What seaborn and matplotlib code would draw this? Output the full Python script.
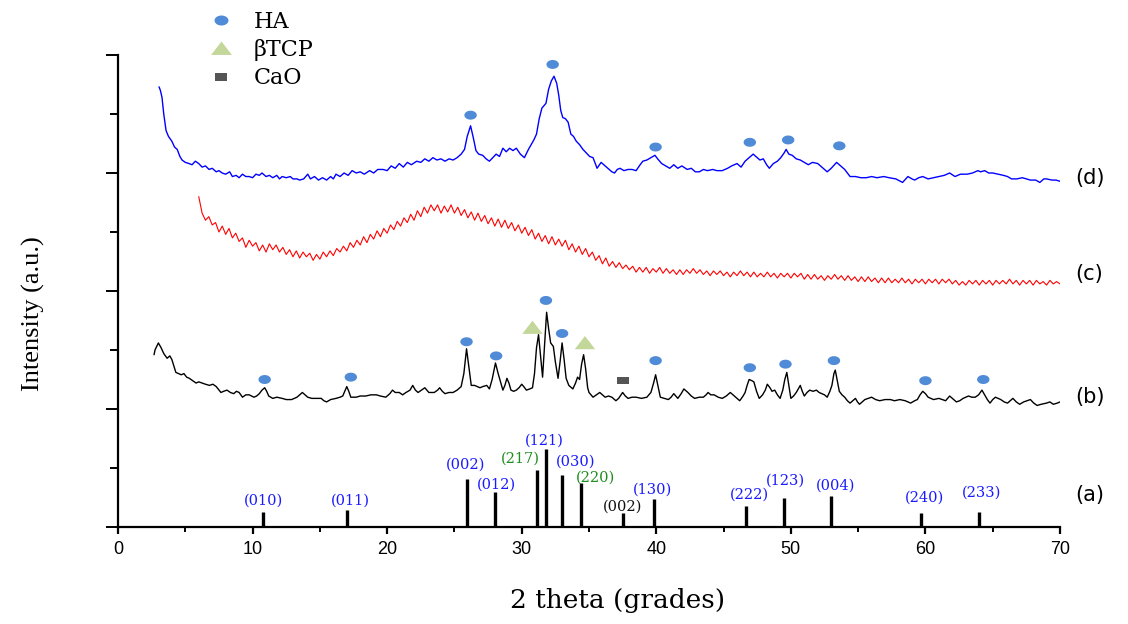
import numpy as np
import matplotlib
matplotlib.use("Agg")
import matplotlib.pyplot as plt
from matplotlib.path import Path
from matplotlib.lines import Line2D
from matplotlib.ticker import MultipleLocator, NullFormatter
import seaborn as sns

# ---------------- data ----------------
# (d) blue pattern
d_theta = [3.05, 3.15, 3.27, 3.40, 3.57, 3.75, 4.00, 4.20, 4.40, 4.60, 4.76, 5.00, 5.28, 5.50, 5.75, 6.00,
           6.25, 6.50, 6.77, 7.00, 7.30, 7.50, 7.74, 8.00, 8.30, 8.50, 8.78, 9.00, 9.25, 9.50, 9.75, 10.00,
           10.25, 10.50, 10.70, 11.00, 11.25, 11.50, 11.80, 12.00, 12.20, 12.50, 12.80, 13.00, 13.30, 13.50,
           13.80, 14.10, 14.30, 14.60, 14.90, 15.20, 15.50, 15.80, 16.00, 16.20, 16.50, 16.80, 17.10, 17.40,
           17.70, 18.00, 18.30, 18.70, 19.00, 19.30, 19.70, 20.00, 20.30, 20.60, 20.90, 21.20, 21.50, 21.80,
           22.20, 22.50, 22.80, 23.10, 23.40, 23.70, 24.00, 24.30, 24.60, 24.90, 25.20, 25.50, 25.75, 25.95,
           26.20, 26.40, 26.60, 26.80, 27.10, 27.35, 27.60, 27.85, 28.10, 28.35, 28.60, 28.85, 29.10, 29.35,
           29.60, 29.90, 30.20, 30.50, 30.70, 30.90, 31.10, 31.30, 31.50, 31.80, 32.00, 32.20, 32.40, 32.60,
           32.75, 32.90, 33.05, 33.25, 33.45, 33.65, 33.85, 34.05, 34.30, 34.55, 34.80, 35.05, 35.30, 35.60,
           35.90, 36.10, 36.40, 36.70, 36.90, 37.10, 37.30, 37.60, 37.90, 38.20, 38.50, 38.80, 39.00, 39.30,
           39.60, 39.90, 40.10, 40.40, 40.70, 41.00, 41.30, 41.60, 41.90, 42.30, 42.60, 42.90, 43.20, 43.50,
           43.80, 44.20, 44.50, 44.90, 45.30, 45.60, 46.00, 46.30, 46.60, 46.90, 47.20, 47.50, 47.70, 47.95,
           48.20, 48.40, 48.70, 49.00, 49.25, 49.50, 49.65, 49.85, 50.10, 50.40, 50.70, 51.00, 51.30, 51.60,
           52.00, 52.30, 52.70, 53.00, 53.40, 53.70, 54.00, 54.20, 54.40, 54.80, 55.20, 55.60, 56.00, 56.40,
           56.90, 57.30, 57.80, 58.30, 58.70, 59.00, 59.20, 59.50, 59.80, 60.20, 60.60, 61.00, 61.40, 61.80,
           62.20, 62.60, 63.10, 63.50, 63.90, 64.10, 64.40, 64.70, 65.00, 65.40, 65.80, 66.10, 66.40, 66.80,
           67.20, 67.50, 67.80, 68.20, 68.50, 68.80, 69.00, 69.40, 69.70, 70.00]
d_int = [3.73, 3.70, 3.64, 3.50, 3.36, 3.31, 3.27, 3.22, 3.20, 3.14, 3.11, 3.09, 3.08, 3.07, 3.10, 3.08,
         3.05, 3.06, 3.03, 3.04, 3.01, 3.02, 3.00, 2.99, 3.01, 2.97, 2.98, 2.96, 2.99, 2.97, 2.97, 2.96,
         2.99, 2.98, 3.00, 2.97, 2.98, 2.96, 2.98, 2.95, 2.97, 2.96, 2.97, 2.95, 2.95, 2.94,
         2.95, 2.99, 2.95, 2.97, 2.94, 2.96, 2.94, 2.97, 2.95, 2.99, 2.97, 3.00, 2.98, 3.02,
         3.00, 3.01, 2.99, 3.02, 3.00, 3.03, 3.03, 3.02, 3.06, 3.04, 3.08, 3.05, 3.09, 3.07,
         3.10, 3.09, 3.12, 3.10, 3.13, 3.11, 3.12, 3.10, 3.12, 3.11, 3.13, 3.16, 3.20, 3.31,
         3.40, 3.30, 3.19, 3.16, 3.15, 3.12, 3.10, 3.13, 3.16, 3.14, 3.21, 3.18, 3.21, 3.19,
         3.21, 3.16, 3.13, 3.20, 3.24, 3.28, 3.33, 3.46, 3.55, 3.59, 3.71, 3.78, 3.82, 3.76,
         3.66, 3.53, 3.47, 3.46, 3.43, 3.33, 3.31, 3.27, 3.24, 3.20, 3.17, 3.14, 3.13, 3.04,
         3.09, 3.07, 3.04, 3.01, 3.00, 3.03, 3.04, 3.02, 3.03, 3.03, 3.02, 3.07, 3.10, 3.11,
         3.13, 3.15, 3.12, 3.08, 3.06, 3.04, 3.07, 3.04, 3.06, 3.03, 3.04, 3.01, 3.01, 3.03,
         3.02, 3.03, 3.02, 3.02, 3.04, 3.06, 3.08, 3.05, 3.10, 3.13, 3.16, 3.13, 3.11, 3.12,
         3.07, 3.04, 3.08, 3.10, 3.13, 3.17, 3.20, 3.16, 3.15, 3.12, 3.11, 3.09, 3.07, 3.09,
         3.08, 3.05, 3.01, 3.04, 3.09, 3.06, 3.03, 3.00, 2.97, 2.97, 2.96, 2.96, 2.97, 2.96,
         2.97, 2.96, 2.95, 2.92, 2.97, 2.95, 2.94, 2.96, 2.97, 2.95, 2.96, 2.97, 2.98, 3.00,
         2.97, 2.99, 2.99, 3.00, 3.02, 3.01, 3.02, 3.00, 3.00, 2.99, 2.98, 2.97, 2.95, 2.95,
         2.96, 2.95, 2.94, 2.94, 2.92, 2.95, 2.95, 2.94, 2.94, 2.93]

# (c) red pattern, recorded every 0.25 deg from 6.0 to 70.0
c_start, c_step = 6.0, 0.25
c_int = [2.80, 2.66, 2.60, 2.63, 2.56, 2.58, 2.50, 2.55, 2.48, 2.53, 2.45, 2.49, 2.42, 2.45, 2.37, 2.43,
         2.38, 2.41, 2.34, 2.39, 2.33, 2.40, 2.35, 2.39, 2.33, 2.37, 2.31, 2.35, 2.29, 2.34, 2.28, 2.33,
         2.29, 2.32, 2.26, 2.31, 2.27, 2.33, 2.29, 2.34, 2.30, 2.36, 2.33, 2.38, 2.34, 2.41, 2.37, 2.43,
         2.39, 2.46, 2.41, 2.48, 2.44, 2.51, 2.46, 2.53, 2.49, 2.56, 2.52, 2.59, 2.55, 2.62, 2.58, 2.65,
         2.60, 2.68, 2.63, 2.71, 2.66, 2.73, 2.68, 2.73, 2.66, 2.72, 2.67, 2.73, 2.66, 2.71, 2.64, 2.69,
         2.62, 2.67, 2.60, 2.66, 2.59, 2.64, 2.57, 2.62, 2.55, 2.61, 2.54, 2.60, 2.53, 2.58, 2.51, 2.56,
         2.49, 2.54, 2.47, 2.52, 2.44, 2.49, 2.42, 2.47, 2.40, 2.46, 2.39, 2.44, 2.38, 2.43, 2.35, 2.40,
         2.33, 2.38, 2.31, 2.36, 2.29, 2.33, 2.26, 2.30, 2.23, 2.28, 2.21, 2.25, 2.20, 2.24, 2.19, 2.22,
         2.18, 2.21, 2.16, 2.20, 2.16, 2.20, 2.15, 2.19, 2.16, 2.20, 2.15, 2.19, 2.15, 2.18, 2.14, 2.18,
         2.14, 2.18, 2.15, 2.19, 2.15, 2.18, 2.14, 2.17, 2.13, 2.17, 2.14, 2.17, 2.13, 2.16, 2.12, 2.16,
         2.13, 2.17, 2.13, 2.16, 2.12, 2.16, 2.12, 2.15, 2.12, 2.16, 2.12, 2.15, 2.11, 2.15, 2.12, 2.15,
         2.11, 2.15, 2.12, 2.15, 2.10, 2.14, 2.10, 2.14, 2.10, 2.13, 2.09, 2.13, 2.10, 2.14, 2.10, 2.13,
         2.09, 2.13, 2.09, 2.12, 2.08, 2.12, 2.08, 2.12, 2.08, 2.11, 2.07, 2.11, 2.07, 2.11, 2.07, 2.10,
         2.07, 2.11, 2.07, 2.10, 2.06, 2.10, 2.07, 2.10, 2.06, 2.10, 2.07, 2.10, 2.06, 2.10, 2.07, 2.10,
         2.06, 2.09, 2.05, 2.08, 2.05, 2.09, 2.06, 2.09, 2.05, 2.09, 2.06, 2.09, 2.05, 2.09, 2.06, 2.09,
         2.06, 2.10, 2.06, 2.09, 2.05, 2.09, 2.06, 2.09, 2.05, 2.09, 2.06, 2.08, 2.05, 2.09, 2.06, 2.08,
         2.06]

# (b) black pattern
b_theta = [2.68, 2.75, 3.00, 3.20, 3.40, 3.65, 3.85, 4.00, 4.30, 4.50, 4.70, 4.90, 5.10, 5.30, 5.55, 5.80,
           6.00, 6.25, 6.50, 6.80, 7.05, 7.30, 7.65, 7.85, 8.10, 8.35, 8.60, 8.80, 9.00, 9.25, 9.50, 9.75,
           10.10, 10.30, 10.50, 10.70, 10.90, 11.05, 11.20, 11.50, 11.80, 12.20, 12.50, 12.90, 13.30, 13.50,
           13.70, 13.90, 14.10, 14.40, 14.70, 15.10, 15.30, 15.50, 15.80, 16.20, 16.50, 16.70, 16.85, 17.00,
           17.15, 17.30, 17.70, 18.00, 18.40, 18.80, 19.20, 19.50, 19.90, 20.20, 20.40, 20.60, 20.90, 21.15,
           21.40, 21.70, 21.90, 22.10, 22.30, 22.55, 22.80, 23.10, 23.50, 23.75, 23.90, 24.10, 24.30, 24.60,
           24.90, 25.20, 25.50, 25.70, 25.90, 26.05, 26.25, 26.50, 26.70, 26.90, 27.10, 27.40, 27.60, 27.80,
           28.05, 28.25, 28.40, 28.60, 28.75, 28.90, 29.05, 29.20, 29.40, 29.60, 29.80, 30.00, 30.15, 30.35,
           30.60, 30.80, 30.95, 31.10, 31.25, 31.40, 31.55, 31.70, 31.85, 32.00, 32.15, 32.35, 32.50, 32.70,
           32.85, 33.00, 33.15, 33.30, 33.50, 33.80, 34.00, 34.15, 34.30, 34.45, 34.60, 34.75, 34.90, 35.00,
           35.30, 35.55, 35.80, 36.00, 36.20, 36.45, 36.70, 37.00, 37.20, 37.50, 37.70, 37.90, 38.20, 38.50,
           38.90, 39.30, 39.60, 39.80, 39.95, 40.10, 40.30, 40.60, 40.90, 41.10, 41.30, 41.45, 41.60, 41.85,
           42.05, 42.35, 42.60, 42.85, 43.20, 43.50, 43.70, 43.85, 44.05, 44.30, 44.60, 44.90, 45.20, 45.50,
           45.80, 46.20, 46.45, 46.60, 46.75, 46.90, 47.10, 47.25, 47.45, 47.65, 47.90, 48.10, 48.25, 48.45,
           48.60, 48.80, 49.00, 49.20, 49.40, 49.55, 49.70, 49.85, 50.00, 50.20, 50.40, 50.55, 50.70, 50.85,
           51.00, 51.20, 51.40, 51.65, 51.90, 52.10, 52.30, 52.50, 52.70, 52.90, 53.05, 53.20, 53.30, 53.45,
           53.60, 53.80, 54.00, 54.20, 54.40, 54.60, 54.80, 54.95, 55.10, 55.30, 55.50, 55.75, 56.00, 56.30,
           56.60, 57.00, 57.40, 57.70, 58.10, 58.50, 58.90, 59.20, 59.40, 59.60, 59.80, 60.00, 60.20, 60.40,
           60.60, 61.00, 61.25, 61.50, 61.80, 62.00, 62.30, 62.55, 62.80, 63.00, 63.20, 63.45, 63.70, 63.95,
           64.20, 64.40, 64.60, 64.80, 65.00, 65.20, 65.40, 65.60, 65.85, 66.10, 66.30, 66.50, 66.75, 67.00,
           67.30, 67.55, 67.80, 68.05, 68.30, 68.60, 69.00, 69.25, 69.50, 69.80, 70.00]
b_int = [1.46, 1.50, 1.56, 1.52, 1.47, 1.43, 1.45, 1.42, 1.31, 1.30, 1.29, 1.30, 1.27, 1.26, 1.24, 1.22,
         1.23, 1.22, 1.21, 1.20, 1.21, 1.19, 1.14, 1.15, 1.16, 1.14, 1.13, 1.15, 1.14, 1.10, 1.12, 1.12,
         1.10, 1.11, 1.13, 1.16, 1.18, 1.15, 1.11, 1.09, 1.10, 1.09, 1.08, 1.08, 1.10, 1.12,
         1.14, 1.12, 1.10, 1.09, 1.09, 1.09, 1.07, 1.06, 1.08, 1.09, 1.10, 1.11, 1.15, 1.19,
         1.15, 1.10, 1.10, 1.11, 1.11, 1.12, 1.12, 1.11, 1.10, 1.13, 1.16, 1.14, 1.14, 1.12,
         1.14, 1.16, 1.20, 1.16, 1.14, 1.16, 1.18, 1.14, 1.14, 1.16, 1.18, 1.15, 1.13, 1.14,
         1.14, 1.16, 1.19, 1.30, 1.51, 1.38, 1.20, 1.20, 1.19, 1.18, 1.19, 1.20, 1.17, 1.25,
         1.39, 1.30, 1.24, 1.16, 1.20, 1.26, 1.22, 1.16, 1.15, 1.16, 1.18, 1.21, 1.19, 1.16,
         1.17, 1.18, 1.30, 1.52, 1.63, 1.45, 1.27, 1.55, 1.82, 1.68, 1.56, 1.53, 1.40, 1.26,
         1.40, 1.56, 1.42, 1.26, 1.20, 1.17, 1.22, 1.27, 1.25, 1.38, 1.46, 1.34, 1.18, 1.14,
         1.10, 1.12, 1.14, 1.12, 1.10, 1.11, 1.10, 1.07, 1.09, 1.14, 1.11, 1.09, 1.10, 1.10,
         1.09, 1.10, 1.14, 1.22, 1.29, 1.21, 1.10, 1.09, 1.08, 1.10, 1.13, 1.11, 1.09, 1.13,
         1.17, 1.14, 1.11, 1.09, 1.10, 1.10, 1.12, 1.14, 1.12, 1.12, 1.10, 1.09, 1.11, 1.14,
         1.11, 1.07, 1.11, 1.14, 1.20, 1.25, 1.24, 1.23, 1.15, 1.09, 1.12, 1.16, 1.21, 1.18,
         1.15, 1.16, 1.12, 1.09, 1.16, 1.25, 1.31, 1.20, 1.09, 1.11, 1.14, 1.17, 1.20, 1.15,
         1.11, 1.14, 1.16, 1.15, 1.16, 1.14, 1.13, 1.12, 1.10, 1.15, 1.20, 1.30, 1.33, 1.24,
         1.15, 1.12, 1.10, 1.07, 1.05, 1.07, 1.09, 1.06, 1.04, 1.06, 1.08, 1.09, 1.10, 1.08,
         1.07, 1.08, 1.08, 1.07, 1.08, 1.07, 1.05, 1.07, 1.08, 1.12, 1.15, 1.13, 1.10, 1.09,
         1.08, 1.09, 1.08, 1.07, 1.11, 1.09, 1.06, 1.07, 1.09, 1.10, 1.11, 1.10, 1.10, 1.12,
         1.16, 1.12, 1.08, 1.05, 1.08, 1.10, 1.09, 1.08, 1.06, 1.05, 1.07, 1.09, 1.06, 1.04,
         1.06, 1.07, 1.08, 1.05, 1.03, 1.04, 1.05, 1.06, 1.04, 1.05, 1.06]

# (a) reference reflections
ref_pos = [10.8, 17.0, 25.9, 28.0, 31.1, 31.8, 33.0, 34.4, 37.5, 39.8, 46.7, 49.5, 53.0, 59.7, 64.0]
ref_height = [0.13, 0.14, 0.41, 0.30, 0.48, 0.66, 0.44, 0.37, 0.12, 0.24, 0.18, 0.25, 0.26, 0.12, 0.13]
ref_hkl = ["(010)", "(011)", "(002)", "(012)", "(217)", "(121)", "(030)", "(220)", "(002)", "(130)",
           "(222)", "(123)", "(004)", "(240)", "(233)"]
ref_phase = ["HA", "HA", "HA", "HA", "TCP", "HA", "HA", "TCP", "CaO", "HA",
             "HA", "HA", "HA", "HA", "HA"]

# phase markers placed over the patterns
ha_x = [26.2, 32.3, 39.95, 46.95, 49.8, 53.6,
        10.9, 17.3, 25.9, 28.1, 31.8, 33.0, 39.95, 46.95, 49.6, 53.2, 60.0, 64.3]
ha_y = [3.49, 3.92, 3.22, 3.26, 3.28, 3.23,
        1.25, 1.27, 1.57, 1.45, 1.92, 1.64, 1.41, 1.35, 1.38, 1.41, 1.24, 1.25]
tcp_x = [30.8, 34.7]
tcp_y = [1.69, 1.56]
cao_x = [37.5]
cao_y = [1.24]

sample_tags = ["(a)", "(b)", "(c)", "(d)"]
sample_tag_y = [0.27, 1.10, 2.14, 2.96]

# ---------------- styling ----------------
sns.set_style("white")
plt.rcParams["font.family"] = ["DejaVu Sans"]
plt.rcParams.update({
    "text.color": "black",
    "axes.labelcolor": "black",
    "xtick.color": "black",
    "ytick.color": "black",
})

HA_COLOR = "#4f8bd6"
TCP_COLOR = "#c4d79b"
CAO_COLOR = "#555555"
phase_text_color = {"HA": "#1a1aff", "TCP": "#1e8c1e", "CaO": "#111111"}

t = np.linspace(0, 2 * np.pi, 48)
ellipse = Path(np.column_stack([np.cos(t), 0.72 * np.sin(t)]), closed=True)
triangle = Path([(-1, -0.62), (1, -0.62), (0, 0.68), (-1, -0.62)], closed=True)
rect = Path([(-1, -0.6), (1, -0.6), (1, 0.6), (-1, 0.6), (-1, -0.6)], closed=True)

fig = plt.figure(figsize=(11.28, 6.24), dpi=100)
ax = fig.add_axes([118 / 1128, 97 / 624, 942 / 1128, 472 / 624])

c_theta = np.arange(len(c_int)) * c_step + c_start

sns.lineplot(x=b_theta, y=b_int, ax=ax, color="black", lw=1.0, estimator=None)
sns.lineplot(x=c_theta, y=c_int, ax=ax, color="#ff0000", lw=0.8, estimator=None)
sns.lineplot(x=d_theta, y=d_int, ax=ax, color="#0000ff", lw=1.0, estimator=None)

ax.vlines(ref_pos, 0, ref_height, colors="black", lw=2.4)

# hkl labels above reference sticks: (dx, dy) offsets in data units
label_offsets = [(0, 0.09), (0.3, 0.08), (-0.1, 0.12), (0.1, 0.06), (-1.2, 0.10), (-0.1, 0.07),
                 (1.0, 0.11), (1.1, 0.05), (0, 0.05), (-0.1, 0.08), (0.2, 0.09), (0.1, 0.14),
                 (0.3, 0.09), (0.2, 0.13), (0.2, 0.16)]
for x, h, lab, ph, (dx, dy) in zip(ref_pos, ref_height, ref_hkl, ref_phase, label_offsets):
    ax.text(x + dx, h + dy, lab, ha="center", va="center", fontsize=10.5,
            family="DejaVu Serif", color=phase_text_color[ph])

sns.scatterplot(x=ha_x, y=ha_y, ax=ax, marker=ellipse, s=80, color=HA_COLOR,
                edgecolor="none", linewidth=0, zorder=5)
sns.scatterplot(x=tcp_x, y=tcp_y, ax=ax, marker=triangle, s=215, color=TCP_COLOR,
                edgecolor="none", linewidth=0, zorder=5)
sns.scatterplot(x=cao_x, y=cao_y, ax=ax, marker=rect, s=75, color=CAO_COLOR,
                edgecolor="none", linewidth=0, zorder=5)

for tag, ty in zip(sample_tags, sample_tag_y):
    ax.text(71.1, ty, tag, ha="left", va="center", fontsize=15, clip_on=False)

ax.set_xlim(0, 70)
ax.set_ylim(0, 4)
ax.xaxis.set_major_locator(MultipleLocator(10))
ax.xaxis.set_minor_locator(MultipleLocator(5))
ax.yaxis.set_major_locator(MultipleLocator(1))
ax.yaxis.set_minor_locator(MultipleLocator(0.5))
ax.yaxis.set_major_formatter(NullFormatter())
ax.tick_params(axis="x", which="major", direction="out", length=5, width=1.6,
               labelsize=13, pad=5, bottom=True)
ax.tick_params(axis="x", which="minor", direction="out", length=3.5, width=1.4, bottom=True)
ax.tick_params(axis="y", which="major", direction="out", length=9, width=1.4, left=True)
ax.tick_params(axis="y", which="minor", direction="out", length=6, width=1.4, left=True)
for lab in ax.get_xticklabels():
    lab.set_family("Liberation Sans")

for side in ("top", "right"):
    ax.spines[side].set_visible(False)
for side in ("left", "bottom"):
    ax.spines[side].set_linewidth(1.6)
    ax.spines[side].set_color("black")

ax.set_xlabel("2 theta (grades)", fontsize=19, family="DejaVu Serif", va="top")
ax.xaxis.set_label_coords(0.53, -0.13)
ax.set_ylabel("Intensity (a.u.)", fontsize=19, family="Liberation Serif")
ax.yaxis.set_label_coords(-0.078, 0.453)

handles = [
    Line2D([], [], ls="none", marker=ellipse, markersize=10, color=HA_COLOR, markeredgewidth=0),
    Line2D([], [], ls="none", marker=triangle, markersize=15, color=TCP_COLOR, markeredgewidth=0),
    Line2D([], [], ls="none", marker=rect, markersize=8.5, color=CAO_COLOR, markeredgewidth=0),
]
leg = fig.legend(handles, ["HA", "\u03b2TCP", "CaO"], loc="upper left",
                 bbox_to_anchor=(204 / 1128, 1 - 11 / 624), frameon=False,
                 prop={"family": "DejaVu Serif", "size": 16}, handlelength=1.5,
                 handletextpad=0.75, labelspacing=0.28, borderpad=0, borderaxespad=0)
for txt in leg.get_texts():
    txt.set_color("black")

fig.savefig("out.png", dpi=100)
